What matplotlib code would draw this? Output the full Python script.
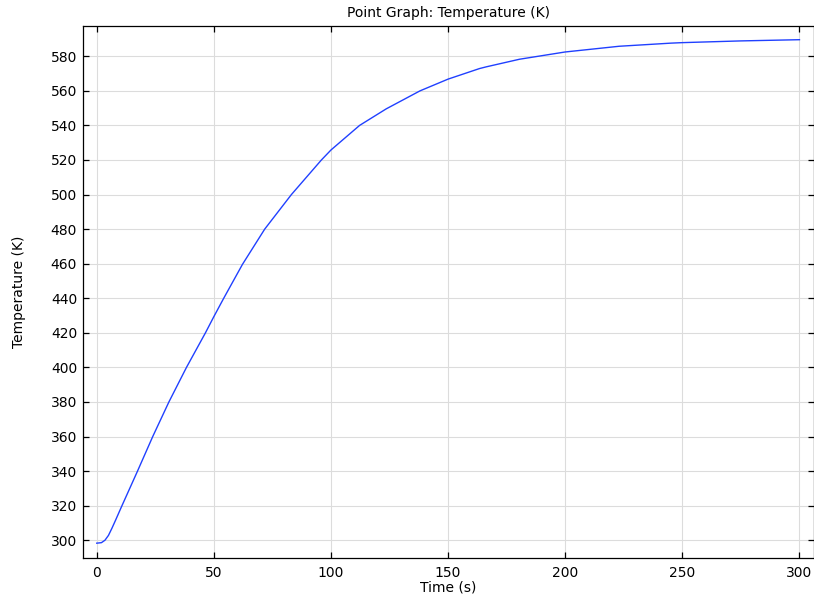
import numpy as np
import matplotlib.pyplot as plt

# values
time_s = [0, 2, 3.5, 5, 6.5, 8, 10.6, 17.4, 23.9, 30.8, 38.3, 46.4, 50,
          54.2, 62.2, 71.7, 83.1, 95.9, 100, 112.2, 123.6, 138, 150, 163.4,
          166.3, 180.5, 200, 223, 245, 250, 275, 300]
temp_k = [298.3, 298.6, 300, 302.8, 307, 311.5, 319.5, 340, 360, 380, 400, 420,
          429.4, 440, 459.6, 480, 500, 520, 525.8, 540, 549.6, 560, 566.8, 572.9,
          573.9, 578.3, 582.5, 585.8, 587.6, 587.9, 588.9, 589.6]

x_ticks = [0, 50, 100, 150, 200, 250, 300]
y_ticks = list(range(300, 581, 20))

plt.rcParams['font.family'] = 'DejaVu Sans'
plt.rcParams['font.size'] = 10

fig = plt.figure(figsize=(8.14, 5.95), dpi=100)
ax = fig.add_axes([0.1016, 0.0627, 0.8978, 0.8944])

ax.plot(time_s, temp_k, color='#2040ff', lw=1.0, solid_joinstyle='round')

ax.set_xlim(-6, 306)
ax.set_ylim(289.9, 597.8)
ax.set_xticks(x_ticks)
ax.set_yticks(y_ticks)
ax.grid(True, color='#dcdcdc', lw=0.8)
ax.set_axisbelow(True)

ax.tick_params(direction='in', length=4.5, width=0.9, top=True, right=True,
               labelsize=10, colors='black', pad=4)
ax.tick_params(axis='x', pad=6)
for s in ax.spines.values():
    s.set_linewidth(0.9)
    s.set_color('black')

ax.set_xlabel('Time (s)', labelpad=0)
ax.set_ylabel('Temperature (K)', labelpad=18)
ax.set_title('Point Graph: Temperature (K)', fontsize=10, pad=6)

fig.savefig('out.png', dpi=100)
